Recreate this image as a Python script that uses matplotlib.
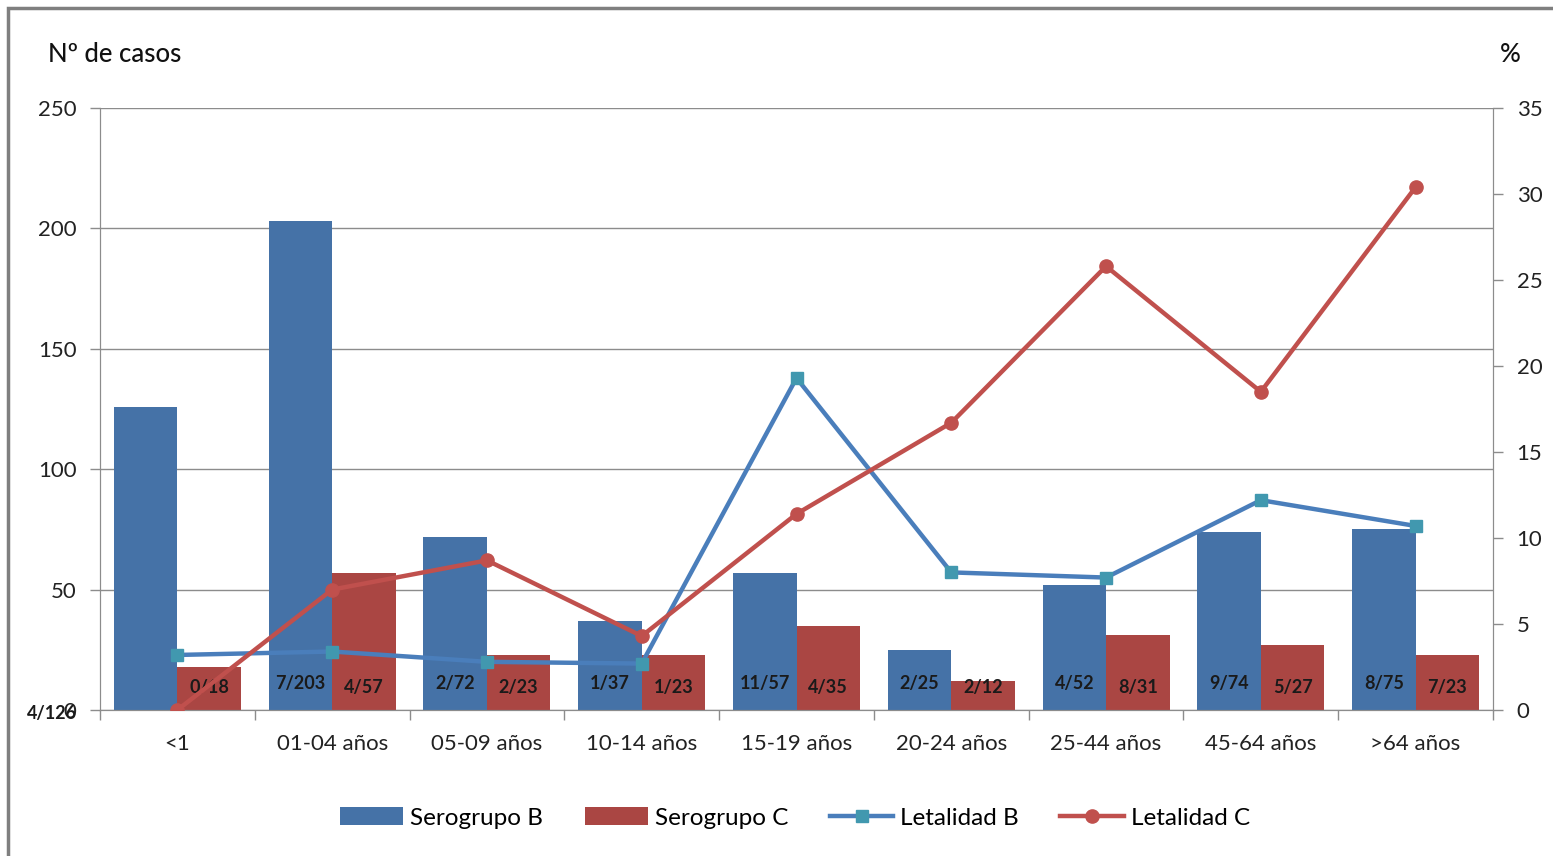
import matplotlib
matplotlib.use("Agg")
import matplotlib.pyplot as plt
import numpy as np
from matplotlib.patches import Rectangle

plt.rcParams['font.family'] = ['Lato', 'DejaVu Sans']

categories = ["<1", "01-04 años", "05-09 años", "10-14 años", "15-19 años",
              "20-24 años", "25-44 años", "45-64 años", ">64 años"]
serogrupo_b = [126, 203, 72, 37, 57, 25, 52, 74, 75]
serogrupo_c = [18, 57, 23, 23, 35, 12, 31, 27, 23]
letalidad_b = [3.2, 3.4, 2.8, 2.7, 19.3, 8.0, 7.7, 12.2, 10.7]
letalidad_c = [0.0, 7.0, 8.7, 4.3, 11.4, 16.7, 25.8, 18.5, 30.4]
labels_b = ["4/126", "7/203", "2/72", "1/37", "11/57", "2/25", "4/52", "9/74", "8/75"]
labels_c = ["0/18", "4/57", "2/23", "1/23", "4/35", "2/12", "8/31", "5/27", "7/23"]
left_ticks = [0, 50, 100, 150, 200, 250]
right_ticks = [0, 5, 10, 15, 20, 25, 30, 35]

W, H = 1553, 856
fig = plt.figure(figsize=(W / 100, H / 100), dpi=100)
ax = fig.add_axes([100 / W, 1 - 710 / H, 1393 / W, 602 / H])
ax2 = ax.twinx()

col_b = "#4572A7"
col_c = "#AA4643"
line_b = "#4A7EBB"
mark_b = "#4198AF"
line_c = "#C0504D"
grid_col = "#8C8C8C"
txt_col = "#222222"

x = np.arange(len(categories))
bw = 0.41
ax.bar(x - bw / 2, serogrupo_b, bw, color=col_b, zorder=2, label="Serogrupo B")
ax.bar(x + bw / 2, serogrupo_c, bw, color=col_c, zorder=2, label="Serogrupo C")

ax.set_ylim(0, 250)
ax.set_yticks(left_ticks)
ax.set_xlim(-0.5, len(categories) - 0.5)
ax.yaxis.grid(True, color=grid_col, linewidth=1.0, zorder=0)
ax.set_axisbelow(True)

ax.set_xticks(x)
ax.set_xticklabels(categories)
ax.set_xticks(np.arange(-0.5, len(categories) + 0.5, 1), minor=True)
ax.tick_params(axis='x', which='major', length=0, pad=17, labelsize=16, colors=txt_col)
ax.tick_params(axis='x', which='minor', length=7, width=1, color=grid_col, direction='out')
ax.tick_params(axis='y', length=7, width=1, color=grid_col, pad=10, labelsize=16,
               labelcolor=txt_col)

for a in (ax, ax2):
    a.spines['top'].set_visible(False)
    for sp in ['left', 'bottom', 'right']:
        a.spines[sp].set_color(grid_col)

ax2.plot(x, letalidad_b, color=line_b, linewidth=3.2, marker='s', markersize=8,
         markerfacecolor=mark_b, markeredgecolor=mark_b, zorder=3, label="Letalidad B")
ax2.plot(x, letalidad_c, color=line_c, linewidth=3.2, marker='o', markersize=9.5,
         markerfacecolor=line_c, markeredgecolor=line_c, zorder=3, label="Letalidad C")
ax2.set_ylim(0, 35)
ax2.set_yticks(right_ticks)
ax2.tick_params(axis='y', length=7, width=1, color=grid_col, pad=10, labelsize=16,
                labelcolor=txt_col)
ax.set_zorder(1)
ax2.set_zorder(2)
ax.patch.set_visible(False)

lab_kw = dict(ha='center', va='center', fontsize=13, fontweight='bold', color='#1a1a1a')
for i in range(len(categories)):
    if i > 0:
        ax.text(x[i] - bw / 2, 11, labels_b[i], **lab_kw, zorder=4)
    ax.text(x[i] + bw / 2, 9.5, labels_c[i], **lab_kw, zorder=4)
# misplaced first label, as in the original
ax.text(-0.0345, -0.005, labels_b[0], transform=ax.transAxes, zorder=5, **lab_kw)

fig.text(48 / W, 1 - 55 / H, "Nº de casos", fontsize=18.5, fontweight='medium',
         ha='left', va='center', color='#111111')
fig.text(1510 / W, 1 - 55 / H, "%", fontsize=18.5, fontweight='medium',
         ha='center', va='center', color='#111111')

h1, l1 = ax.get_legend_handles_labels()
h2, l2 = ax2.get_legend_handles_labels()
fig.legend(h1 + h2, l1 + l2, loc='center', bbox_to_anchor=(795 / W, 1 - 818 / H),
           ncol=4, frameon=False, fontsize=17.5, handlelength=2.6, handleheight=0.7,
           columnspacing=1.7, handletextpad=0.3)

fig.patches.append(Rectangle((8 / W, -0.1), 1.2, 1 - 8 / H + 0.1, transform=fig.transFigure,
                             fill=False, edgecolor='#7f7f7f', linewidth=2.5))

fig.savefig("out.png", dpi=100)
